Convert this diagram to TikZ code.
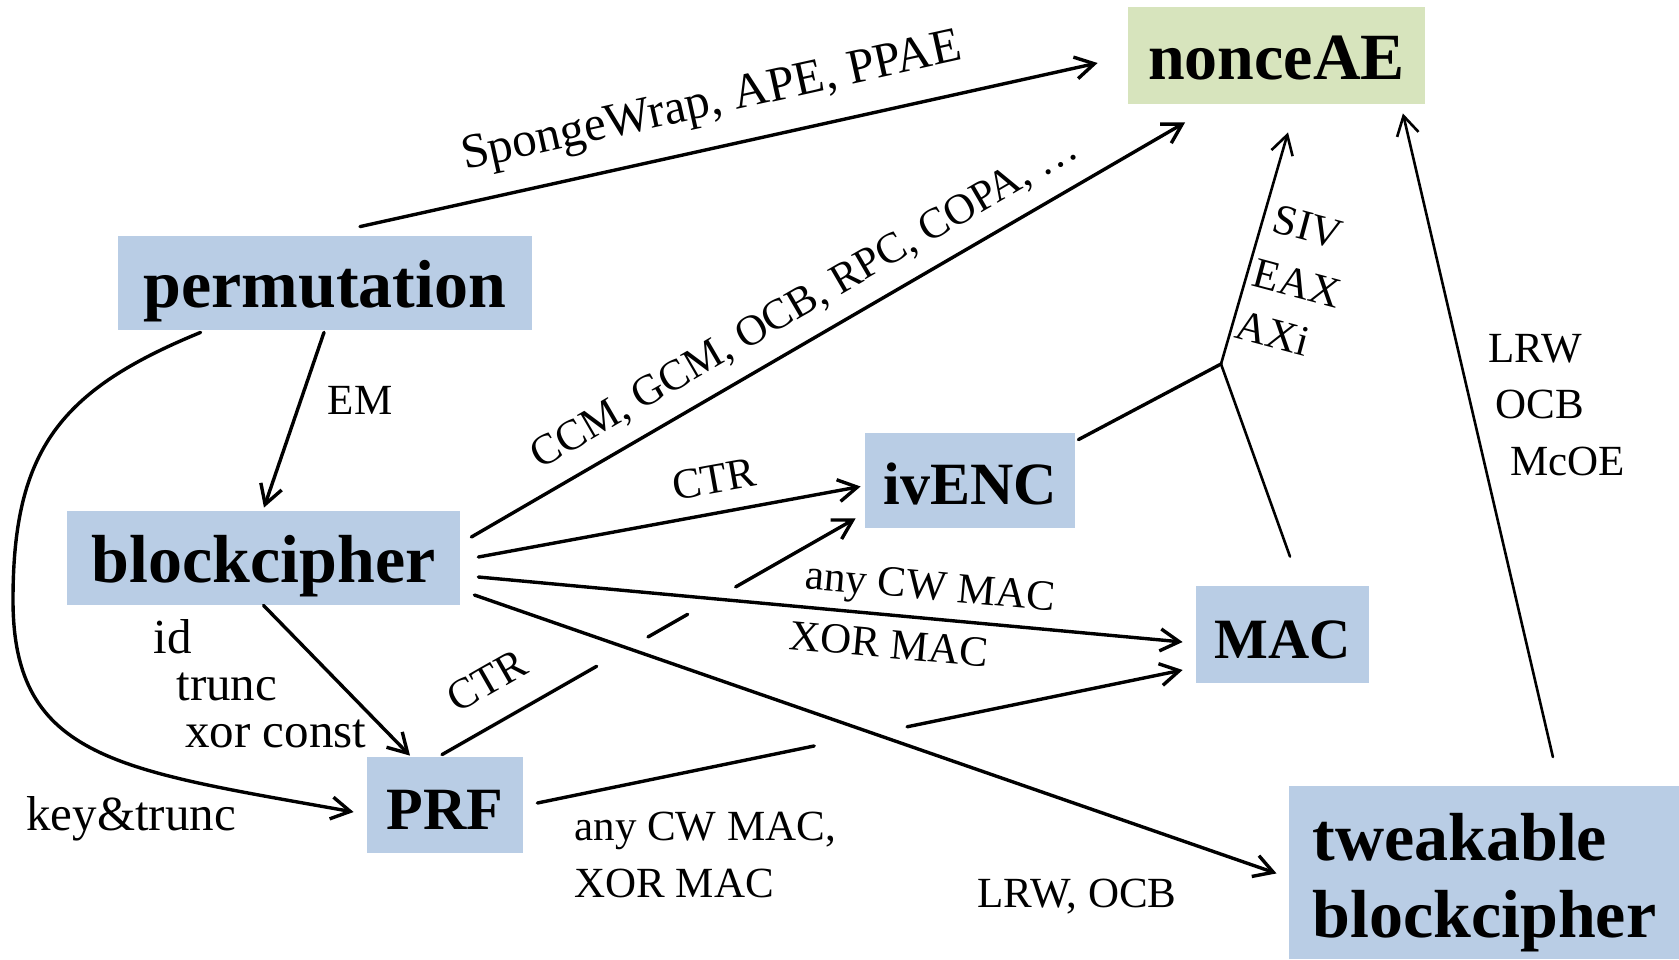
\documentclass[tikz,border=0pt]{standalone}
\usepackage{fontspec}
\setmainfont{Liberation Serif}
\usetikzlibrary{arrows.meta,calc}
\definecolor{boxblue}{HTML}{B9CDE5}
\definecolor{boxgreen}{HTML}{D7E4BD}

\begin{document}
\begin{tikzpicture}[x=0.5pt,y=-0.5pt,
  box/.style={fill=boxblue, inner sep=0pt, text height=24pt, text depth=0pt},
  bx/.style={font=\fontsize{#1}{38.5}\selectfont\bfseries},
  ln/.style={line width=1.7pt, line cap=round},
  thinln/.style={line width=1.3pt, line cap=round},
  arr/.style={-{Straight Barb[length=9.5pt,width=11pt]}},
  lbl/.style={font=\fontsize{21.5}{24}\selectfont, inner sep=0pt},
  lblw/.style={font=\fontsize{24.5}{28}\selectfont, inner sep=0pt},
]
\useasboundingbox (0,0) rectangle (1679,959);

% ---- boxes ----
\node[box, fill=boxgreen, bx=33, minimum width=148.5pt, minimum height=48.5pt] (ae) at (1276.5,55.5) {nonceAE};
\node[box, bx=34, minimum width=207pt, minimum height=47pt] (perm) at (325,283) {permutation};
\node[box, bx=34, minimum width=196.5pt, minimum height=47pt] (bc) at (263.5,558) {blockcipher};
\node[box, bx=30, minimum width=105pt, minimum height=47.5pt] (iv) at (970,480.5) {ivENC};
\node[box, bx=28.5, minimum width=86.5pt, minimum height=48.5pt] (mac) at (1282.5,634.5) {MAC};
\node[box, bx=30, minimum width=78pt, minimum height=48pt] (prf) at (445,805) {PRF};
\node[fill=boxblue, bx=34, anchor=north west, inner ysep=0pt, inner xsep=10.5pt,
      minimum width=195pt, text height=75.5pt, text depth=11pt] (tbc) at (1289,786)
      {\begin{tabular}[b]{@{}l@{}}tweakable\\blockcipher\end{tabular}};

\coordinate (jn) at (1221,364);

% ---- connectors ----
\draw[ln,arr] ($(perm.north)+(35,-9)$) -- ($(ae.west)+(-30,7.5)$);
\draw[ln,arr] ($(perm.south)+(-1,2)$) -- ($(bc.north)+(0.5,-3)$);
\draw[ln,arr] ($(perm.south west)+(83,2)$) .. controls (60,390) and (13,450) .. (13,600)
      .. controls (13,760) and (120,770) .. ($(prf.west)+(-13,7)$);
\draw[ln,arr] (bc.south) -- ($(prf.north)+(-35,-1)$);
\draw[ln,arr] ($(bc.east)+(11,-21)$) -- ($(ae.south west)+(57.5,18)$);
\draw[ln,arr] ($(bc.east)+(18,-1)$) -- ($(iv.west)+(-4,6)$);
\draw[ln,arr] ($(bc.east)+(18,19)$) -- ($(mac.west)+(-13,7.5)$);
\draw[ln,arr] ($(bc.east)+(14,37)$) -- ($(tbc.west)+(-12.5,0.5)$);

% PRF -> ivENC, broken where it passes other arrows
\coordinate (c1s) at ($(prf.north)+(-3,-2)$);
\coordinate (c1e) at ($(iv.south west)+(-9,-10)$);
\draw[ln] (c1s) -- ($(c1s)!0.374!(c1e)$);
\draw[ln] ($(c1s)!0.498!(c1e)$) -- ($(c1s)!0.594!(c1e)$);
\draw[ln,arr] ($(c1s)!0.710!(c1e)$) -- (c1e);

% PRF -> MAC, broken likewise
\coordinate (c2s) at ($(prf.east)+(14,-2)$);
\coordinate (c2e) at ($(mac.west)+(-13,35.5)$);
\draw[ln] (c2s) -- ($(c2s)!0.429!(c2e)$);
\draw[ln,arr] ($(c2s)!0.573!(c2e)$) -- (c2e);

% ivENC + MAC -> nonceAE
\draw[ln] ($(iv.north east)+(3,7)$) -- (jn);
\draw[thinln] ($(mac.north)+(7.5,-29)$) -- (jn);
\draw[thinln,arr] (jn) -- ($(ae.south)+(11.5,28)$);

% tweakable blockcipher -> nonceAE
\draw[thinln,arr] ($(tbc.north)+(68.5,-29)$) -- ($(ae.south east)+(-22.5,9)$);

% ---- labels ----
\node[lblw, rotate=12.5] (lsp) at (712,104) {SpongeWrap, APE, PPAE};
\node[lbl] (lem) at (360,400) {EM};
\node[lblw, anchor=base west] (lid) at (153,653) {id};
\node[lblw, anchor=base west] (ltr) at (176,700) {trunc};
\node[lblw, anchor=base west] (lxc) at (185,747) {xor const};
\node[lblw, anchor=base west] (lkt) at (26,830) {key\&trunc};
\node[lbl, rotate=30.2] (lccm) at (805,303) {CCM, GCM, OCB, RPC, COPA, …};
\node[lbl, rotate=10.2] (lctra) at (714,479) {CTR};
\node[lbl, rotate=-5.1] (lcwa) at (930,590) {any CW MAC};
\node[lbl, rotate=-5.1] (lxora) at (889,644) {XOR MAC};
\node[lbl, anchor=base west] (llo) at (977,907) {LRW, OCB};
\node[lbl, rotate=29.8] (lctrb) at (487,681) {CTR};
\node[lbl, anchor=base west] (lcwb) at (574,840) {any CW MAC,};
\node[lbl, anchor=base west] (lxorb) at (574,897) {XOR MAC};
\node[lbl, rotate=-15] (lsiv) at (1308,227) {SIV};
\node[lbl, rotate=-15] (leax) at (1297,283) {EAX};
\node[lbl, rotate=-15] (laxi) at (1273,333) {AXi};
\node[lbl, anchor=base west] (llrw) at (1488,362) {LRW};
\node[lbl, anchor=base west] (locb) at (1495,418) {OCB};
\node[lbl, anchor=base west] (lmcoe) at (1510,475) {McOE};
\end{tikzpicture}
\end{document}
